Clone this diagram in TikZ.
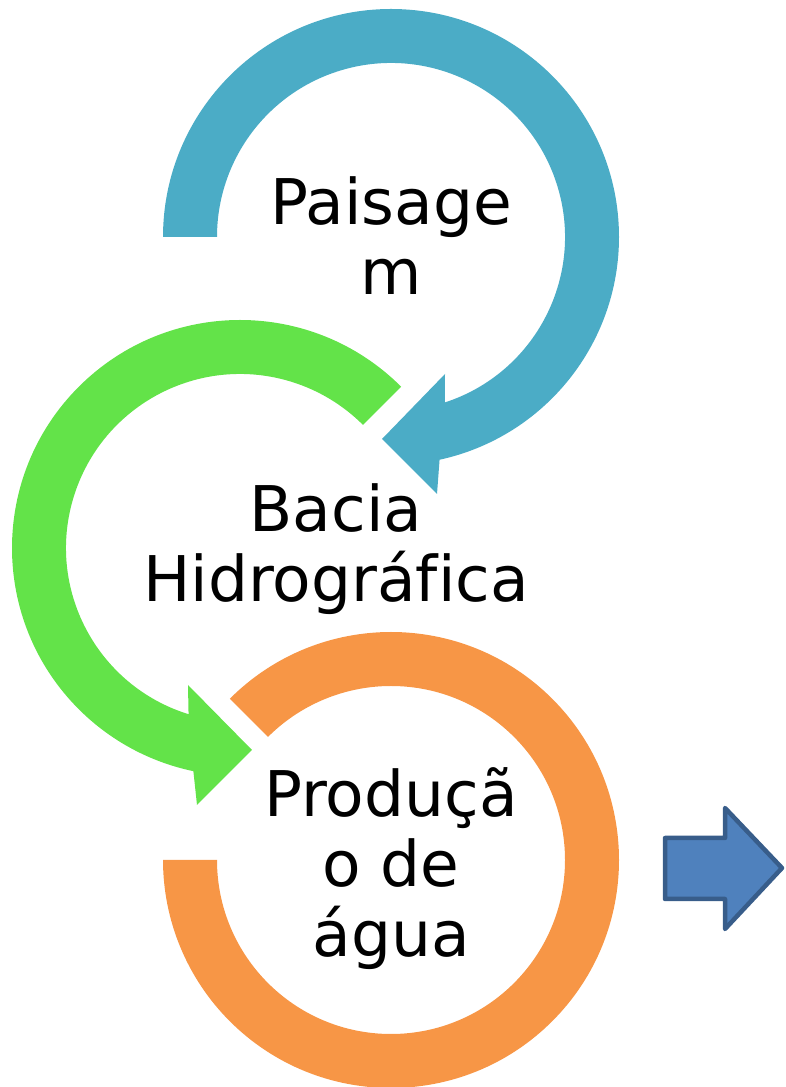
\documentclass[tikz,border=0pt]{standalone}
\usepackage{fontspec}
\setmainfont[Ligatures=NoCommon]{DejaVu Sans}
\definecolor{ringblue}{RGB}{75,172,198}
\definecolor{ringgreen}{RGB}{99,227,73}
\definecolor{ringorange}{RGB}{247,150,70}
\definecolor{arrowfill}{RGB}{79,129,189}
\definecolor{arrowline}{RGB}{56,93,138}
\begin{document}
\begin{tikzpicture}[x=1pt,y=1pt,
  ringtext/.style={font=\fontsize{63}{70}\selectfont, align=center, inner sep=0pt, anchor=base},
  bigarrow/.style={draw=arrowline, fill=arrowfill, line width=4.5pt, line join=round}]
\useasboundingbox (0,0) rectangle (786,1087);
% blue ring (Paisagem)
\begin{scope}[shift={(391,850)}]
\fill[ringblue] (180:228) arc[start angle=180,end angle=-77.7,radius=228]
  -- (46,-257) -- (-9,-202) -- (54,-137) -- (-72:174)
  arc[start angle=-72,end angle=180,radius=174] -- cycle;
\end{scope}
% green ring (Bacia)
\begin{scope}[shift={(240,539)}]
\fill[ringgreen] (45:228) arc[start angle=45,end angle=258.2,radius=228]
  -- (-43,-257) -- (12,-202) -- (-52,-137) -- (252.8:174)
  arc[start angle=252.8,end angle=45,radius=174] -- cycle;
\end{scope}
% orange ring (Producao)
\begin{scope}[shift={(391,227)}]
\fill[ringorange] (135:228) arc[start angle=135,end angle=-180,radius=228]
  -- (180:174) arc[start angle=180,end angle=495,radius=174] -- cycle;
\end{scope}
% texts (anchor=base is the baseline of the last line)
\node[ringtext] (paisagem) at (391,792) {Paisage\\m};
\node[ringtext] (bacia) at (336,485) {Bacia\\Hidrográfica};
\node[ringtext] (producao) at (391,130) {Produçã\\o de\\água};
% right arrow
\draw[bigarrow] (665,249) -- (725,249) -- (725,279) -- (782,219) -- (725,158) -- (725,188) -- (665,188) -- cycle;
\end{tikzpicture}
\end{document}
